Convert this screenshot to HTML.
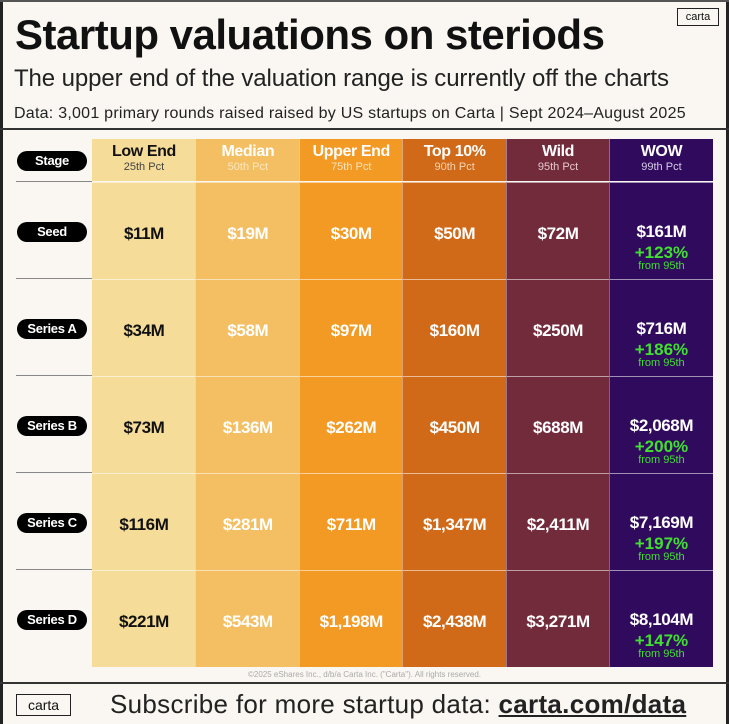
<!DOCTYPE html>
<html><head><meta charset="utf-8"><style>
html,body{margin:0;padding:0}
body{width:729px;height:724px;background:#faf7f2;position:relative;overflow:hidden;font-family:"Liberation Sans",sans-serif;color:#111}
.a{position:absolute;white-space:nowrap}
.cell{position:absolute;text-align:center;font-weight:bold;box-sizing:border-box}
.pill{position:absolute;left:17px;width:70px;height:20px;border-radius:10px;background:#000;color:#fff;font-weight:bold;font-size:13px;line-height:20px;text-align:center;letter-spacing:-0.3px}
</style></head><body>
<div class="a" style="left:0;top:0;width:3px;height:724px;background:#222"></div>
<div class="a" style="left:726px;top:0;width:3px;height:724px;background:#222"></div>
<div class="a" style="left:0;top:0;width:729px;height:2px;background:#555"></div>
<div class="a" style="left:677px;top:8px;width:40px;height:16px;border:1px solid #222;font-size:11px;line-height:16px;text-align:center">carta</div>
<div class="a" style="left:15px;top:11px;font-size:42px;font-weight:bold;letter-spacing:-0.5px">Startup valuations on steriods</div>
<div class="a" style="left:14px;top:65px;font-size:24px;color:#222;letter-spacing:-0.1px">The upper end of the valuation range is currently off the charts</div>
<div class="a" style="left:14px;top:105px;font-size:16px;color:#222;letter-spacing:0.25px">Data: 3,001 primary rounds raised raised by US startups on Carta | Sept 2024–August 2025</div>
<div class="a" style="left:0;top:128px;width:729px;height:2px;background:#333"></div>
<div class="a" style="left:0;top:682px;width:729px;height:2px;background:#333"></div>
<div class="a" style="left:0;width:729px;top:670px;text-align:center;font-size:8px;color:#aaa">©2025 eShares Inc., d/b/a Carta Inc. ("Carta"). All rights reserved.</div>
<div class="a" style="left:16px;top:694px;width:53px;height:20px;border:1px solid #222;font-size:14px;line-height:20px;text-align:center">carta</div>
<div class="a" style="left:110px;top:689px;font-size:26px;color:#222;letter-spacing:0.3px">Subscribe for more startup data: <span style="font-weight:bold;text-decoration:underline">carta.com/data</span></div>
<div id="table"></div>
<script>
const columns=["Low End","Median","Upper End","Top 10%","Wild","WOW"];
const percentiles=["25th Pct","50th Pct","75th Pct","90th Pct","95th Pct","99th Pct"];
const stages=["Seed","Series A","Series B","Series C","Series D"];
const seedVals=["$11M","$19M","$30M","$50M","$72M","$161M"];
const seriesAVals=["$34M","$58M","$97M","$160M","$250M","$716M"];
const seriesBVals=["$73M","$136M","$262M","$450M","$688M","$2,068M"];
const seriesCVals=["$116M","$281M","$711M","$1,347M","$2,411M","$7,169M"];
const seriesDVals=["$221M","$543M","$1,198M","$2,438M","$3,271M","$8,104M"];
const growth=["+123%","+186%","+200%","+197%","+147%"];
const values=[seedVals,seriesAVals,seriesBVals,seriesCVals,seriesDVals];
const colBg=["#f5dc98","#f3bf62","#f39a25","#d06a18","#722b3b","#300a5c"];
const colFg=["#111","#fff","#fff","#fff","#fff","#fff"];
const subFg=["#444","#fbe7c0","#fde2bd","#f7d4b4","#e6c8cf","#d6ccea"];
const t=document.getElementById('table');
const x0=92,cw=103.4,hy=139,hh=42,by=182,rh=97;
function mk(cls,css,txt){const d=document.createElement('div');d.className=cls;d.style.cssText=css;if(txt!=null)d.innerHTML=txt;t.appendChild(d);return d;}
let p=mk('pill','top:'+(hy+12)+'px','Stage');


columns.forEach((c,i)=>{
  const h=mk('cell','left:'+(x0+i*cw)+'px;top:'+hy+'px;width:'+(cw+0.5)+'px;height:'+hh+'px;background:'+colBg[i]+';color:'+colFg[i]+';border-left:'+(i?'1px solid rgba(255,255,255,0.4)':'0'),
   '<div style="font-size:16px;margin-top:4px;letter-spacing:-0.4px">'+c+'</div><div style="font-size:11px;font-weight:normal;color:'+subFg[i]+'">'+percentiles[i]+'</div>');
  
  
});
stages.forEach((s,r)=>{
  const y=by+r*rh;
  const ln=mk('a','left:16px;top:'+(y-1)+'px;width:76px;height:1px;background:#888');
  
  
  const pl=mk('pill','top:'+(y+rh/2-9)+'px',s);
  
  
  values[r].forEach((v,i)=>{
    const last=i===5;
    let html='<div style="font-size:17px;letter-spacing:-0.4px;margin-top:'+(last?39:41)+'px">'+v+'</div>';
    if(last) html+='<div style="color:#3fe030;font-size:17px;line-height:17px;margin-top:2px">'+growth[r]+'</div><div style="color:#3fe030;font-size:11px;font-weight:normal;line-height:11px">from 95th</div>';
    const c=mk('cell','left:'+(x0+i*cw)+'px;top:'+y+'px;width:'+(cw+0.5)+'px;height:'+rh+'px;background:'+colBg[i]+';color:'+colFg[i]+';border-top:1px solid rgba(255,255,255,0.55);border-left:'+(i?'1px solid rgba(255,255,255,0.35)':'0'),html);
    
    
  });
});
</script>
</body></html>
